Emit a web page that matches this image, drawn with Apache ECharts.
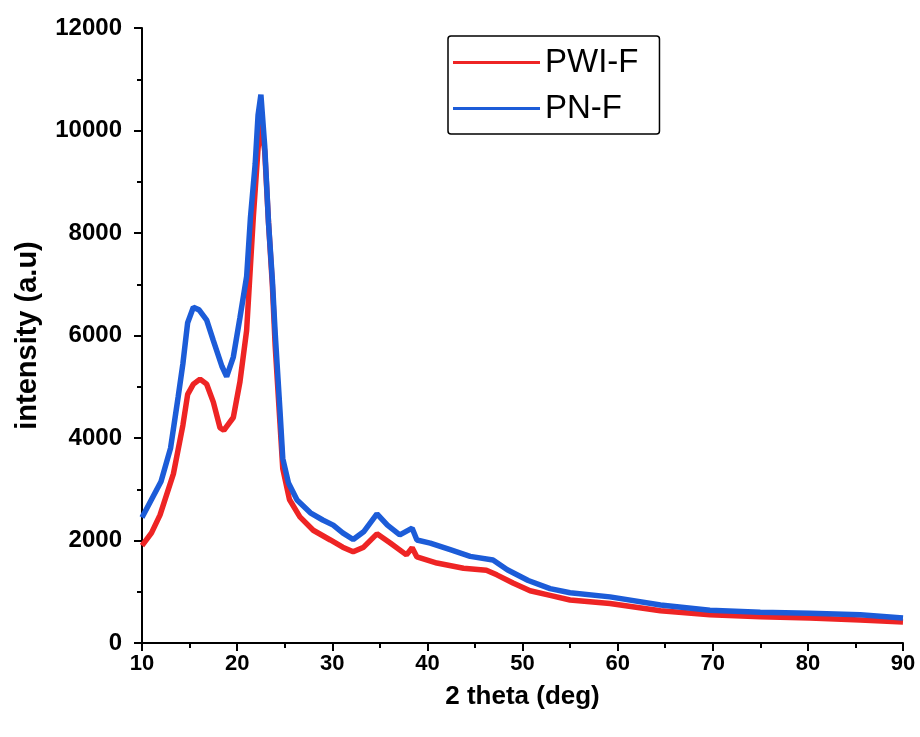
<!DOCTYPE html>
<html>
<head>
<meta charset="utf-8">
<script src="https://cdn.jsdelivr.net/npm/echarts@6/dist/echarts.min.js"></script>
<style>html,body{margin:0;padding:0;background:#fff}#c{width:920px;height:737px}</style>
</head>
<body>
<div id="c"></div>
<script>
var seriesNames = ['PWI-F', 'PN-F'];
var pwiX = [10,11,11.9,13.3,14.3,14.8,15.4,16.1,16.8,17.5,18.2,18.6,19.6,20.3,21,21.7,22.2,22.5,22.9,23.3,23.7,24,24.5,24.8,25.5,26.6,28,29.8,31.1,32.2,33.3,34.7,36.1,37.8,38.4,38.9,41,43.8,46.2,47.3,49,50.8,52.9,55,59.2,64.5,69.7,75,80.2,85.5,90];
var pwiY = [1900,2150,2500,3300,4250,4850,5050,5150,5050,4700,4200,4150,4400,5100,6100,8300,9650,10150,9600,8200,7000,5800,4300,3400,2800,2460,2200,2010,1870,1780,1870,2130,1950,1720,1860,1680,1560,1460,1420,1330,1170,1020,930,840,770,630,550,510,490,450,410];
var pnX = [10,11,12,13,13.8,14.3,14.8,15.4,16,16.8,17.5,18.4,18.9,19.6,20.3,21,21.4,21.9,22.2,22.5,22.9,23.3,23.7,24,24.5,24.8,25.4,26.3,27.7,29,30.1,31.1,32.2,33.3,34.7,35.8,37.1,38.4,38.9,40.3,42.4,44.5,46.9,48.4,50.6,52.9,55,59.2,64.5,69.7,75,80.2,85.5,90];
var pnY = [2450,2800,3150,3800,4800,5450,6250,6550,6500,6300,5900,5400,5200,5580,6350,7150,8300,9350,10300,10700,9700,8200,7100,6050,4550,3600,3120,2790,2540,2400,2300,2150,2020,2170,2520,2300,2110,2240,2010,1950,1820,1690,1620,1430,1220,1060,980,900,740,640,600,580,550,490];
var xTicks = [10,20,30,40,50,60,70,80,90];
var yTicks = [0,2000,4000,6000,8000,10000,12000];

function pairs(xs, ys){ return xs.map(function(x,i){ return [x, ys[i]]; }); }

var chart = echarts.init(document.getElementById('c'));
var font = 'Liberation Sans, Arial, sans-serif';
chart.setOption({
  animation: false,
  backgroundColor: '#fff',
  grid: {left: 142, right: 17, top: 28, bottom: 94},
  legend: {
    left: 448, top: 36,
    orient: 'vertical',
    data: seriesNames,
    icon: 'rect',
    itemWidth: 87, itemHeight: 3,
    itemGap: 13,
    padding: [10, 21, 9, 5],
    borderColor: '#000', borderWidth: 1.5, borderRadius: 3,
    textStyle: {fontFamily: font, fontSize: 33, color: '#000', lineHeight: 33}
  },
  xAxis: {
    type: 'value', min: xTicks[0], max: xTicks[xTicks.length-1], interval: 10,
    name: '2 theta (deg)', nameLocation: 'middle', nameGap: 41,
    nameTextStyle: {fontFamily: font, fontSize: 26, fontWeight: 'bold', color: '#000'},
    axisLine: {lineStyle: {color: '#000', width: 2}},
    axisTick: {show: true, inside: false, length: 8, lineStyle: {color: '#000', width: 2}},
    minorTick: {show: true, splitNumber: 2, length: 5, lineStyle: {color: '#000', width: 2}},
    axisLabel: {fontFamily: font, fontSize: 22, fontWeight: 'bold', color: '#000', margin: 10},
    splitLine: {show: false}
  },
  yAxis: {
    type: 'value', min: yTicks[0], max: yTicks[yTicks.length-1], interval: 2000,
    name: 'intensity (a.u)', nameLocation: 'middle', nameGap: 100, nameRotate: 90,
    nameTextStyle: {fontFamily: font, fontSize: 29, fontWeight: 'bold', color: '#000'},
    axisLine: {show: true, lineStyle: {color: '#000', width: 2}},
    axisTick: {show: true, inside: false, length: 8, lineStyle: {color: '#000', width: 2}},
    minorTick: {show: true, splitNumber: 2, length: 5, lineStyle: {color: '#000', width: 2}},
    axisLabel: {fontFamily: font, fontSize: 24, fontWeight: 'bold', color: '#000', margin: 20,
      formatter: function(v){ return String(v); }},
    splitLine: {show: false}
  },
  series: [
    {name: seriesNames[0], type: 'line', data: pairs(pwiX, pwiY), showSymbol: false, symbol: 'none',
     lineStyle: {color: '#ee2424', width: 5.5}, itemStyle: {color: '#ee2424'}, z: 2},
    {name: seriesNames[1], type: 'line', data: pairs(pnX, pnY), showSymbol: false, symbol: 'none',
     lineStyle: {color: '#1c5cd8', width: 5.5}, itemStyle: {color: '#1c5cd8'}, z: 3}
  ]
});
</script>
</body>
</html>
